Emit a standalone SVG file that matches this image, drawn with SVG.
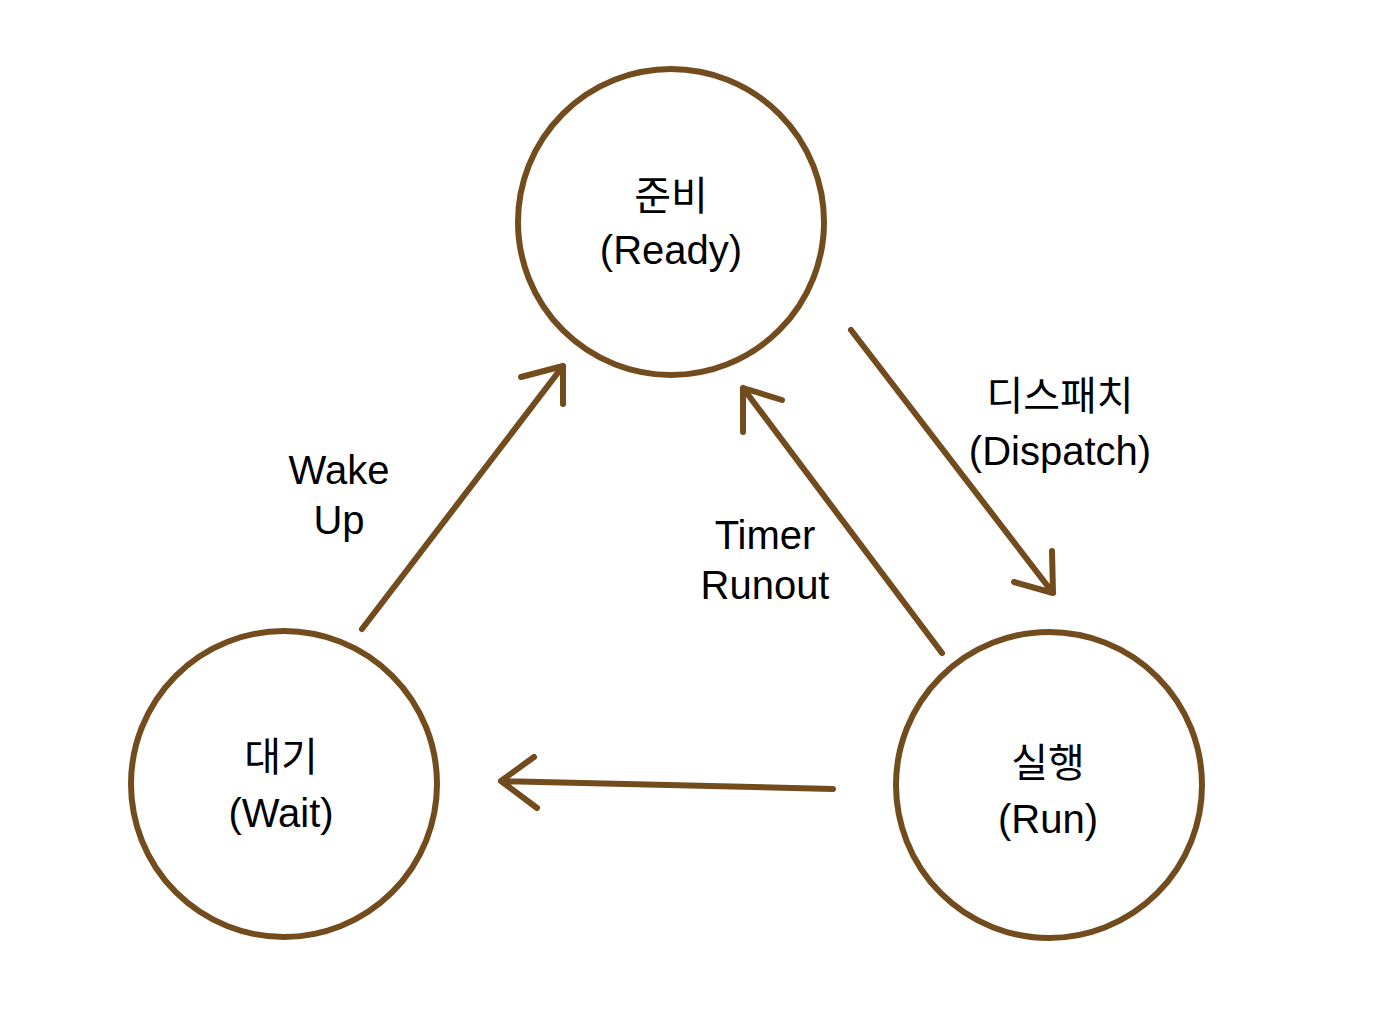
<svg xmlns="http://www.w3.org/2000/svg" width="1387" height="1028" viewBox="0 0 1387 1028">
<style>
.node{fill:none;stroke:#734C1E;stroke-width:6}
.edge{fill:none;stroke:#734C1E;stroke-width:6;stroke-linecap:round;stroke-linejoin:round}
text{font-family:"Liberation Sans","Noto Sans CJK KR",sans-serif;font-size:40px;fill:#000;text-anchor:middle}
</style>
<rect width="1387" height="1028" fill="#fff"/>
<g id="ready"><circle class="node" cx="671" cy="222" r="153"/><text x="671" y="210">준비</text><text x="671" y="264">(Ready)</text></g>
<g id="wait"><circle class="node" cx="284" cy="784" r="153"/><text x="281" y="771">대기</text><text x="281" y="827">(Wait)</text></g>
<g id="run"><circle class="node" cx="1049" cy="785" r="153"/><text x="1048" y="777">실행</text><text x="1048" y="833">(Run)</text></g>
<g id="connectors">
<path class="edge" d="M362,629 L563,366 M521,377 L563,366 L563,404"/>
<path class="edge" d="M851,330 L1053,593 M1052,551 L1053,593 L1014,582"/>
<path class="edge" d="M942,653 L743,388 M782,400 L743,388 L743,432"/>
<path class="edge" d="M833,789 L501,781 M534,757 L501,781 L537,808"/>
</g>
<g id="labels">
<text x="339" y="484">Wake</text><text x="339" y="534">Up</text>
<text x="765" y="549">Timer</text><text x="765" y="599">Runout</text>
<text x="1060" y="410">디스패치</text><text x="1060" y="465">(Dispatch)</text>
</g>
</svg>
